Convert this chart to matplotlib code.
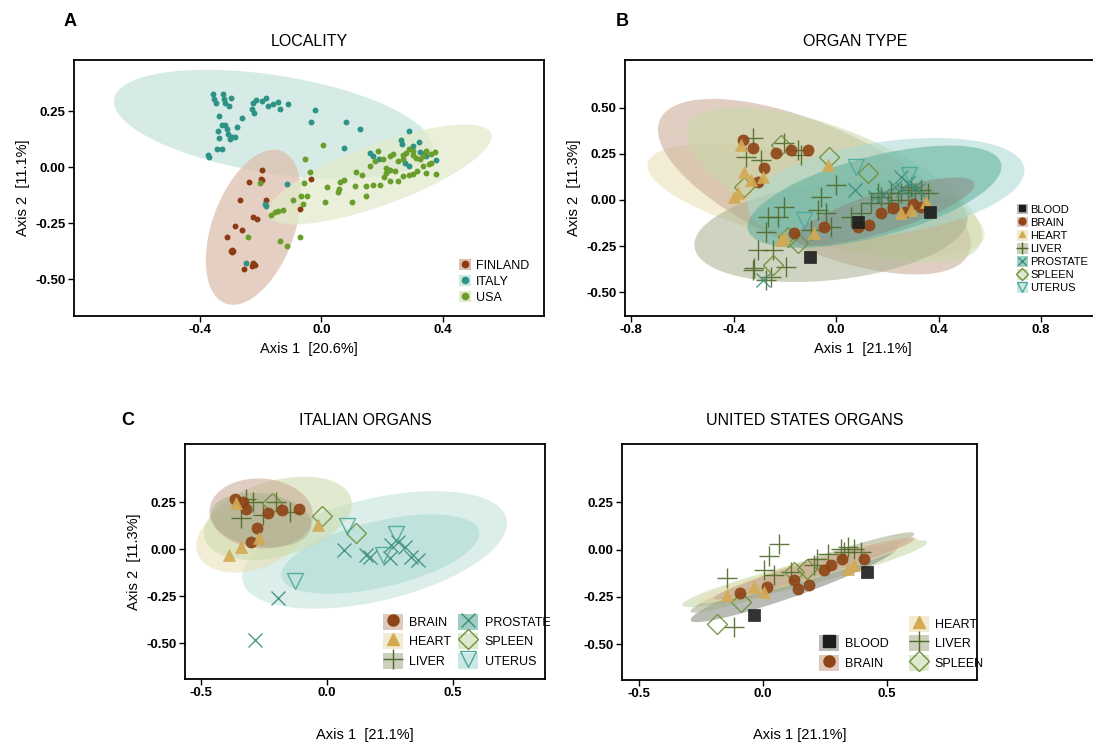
import numpy as np
import matplotlib
matplotlib.use("Agg")
import matplotlib.pyplot as plt
from matplotlib.patches import Patch
from matplotlib.lines import Line2D

plt.rcParams['font.family'] = ['Liberation Sans', 'DejaVu Sans']

# ---------------- DATA ----------------
# Panel A: locality (Axis1, Axis2)
finland_x = [-0.195, -0.199, -0.197, -0.239, -0.181, -0.268, -0.225, -0.212, -0.284, -0.263,
             -0.312, -0.294, -0.299, -0.290, -0.296, -0.225, -0.219, -0.230, -0.254, -0.071, -0.033]
finland_y = [-0.013, -0.052, -0.058, -0.067, -0.148, -0.145, -0.224, -0.231, -0.264, -0.282,
             -0.312, -0.369, -0.376, -0.373, -0.381, -0.428, -0.436, -0.440, -0.455, -0.187, -0.055]
italy_x = [-0.356, -0.354, -0.347, -0.323, -0.321, -0.318, -0.299, -0.304, -0.227, -0.230,
           -0.222, -0.214, -0.197, -0.181, -0.175, -0.159, -0.142, -0.137, -0.110, -0.022,
           -0.033, 0.082, 0.126, -0.263, -0.336, -0.329, -0.318, -0.336, -0.340, -0.312,
           -0.307, -0.296, -0.285, -0.301, -0.279, -0.345, -0.329, -0.373, -0.369, 0.290,
           0.263, 0.266, 0.321, 0.301, 0.075, 0.161, 0.170, 0.190, 0.274, 0.290,
           0.376, -0.115, -0.186, -0.181, -0.249, 0.345, 0.334, 0.323]
italy_y = [0.328, 0.306, 0.288, 0.325, 0.303, 0.285, 0.310, 0.273, 0.285, 0.261,
           0.240, 0.300, 0.296, 0.310, 0.273, 0.281, 0.291, 0.258, 0.281, 0.255,
           0.201, 0.201, 0.172, 0.221, 0.228, 0.187, 0.187, 0.131, 0.161, 0.169,
           0.146, 0.136, 0.136, 0.124, 0.181, 0.082, 0.082, 0.052, 0.045, 0.161,
           0.121, 0.104, 0.112, 0.094, 0.085, 0.061, 0.049, 0.034, 0.019, 0.004,
           0.030, -0.075, -0.167, -0.175, -0.428, 0.049, 0.057, 0.067]
usa_x = [0.005, -0.055, -0.038, -0.057, -0.066, -0.049, -0.060, -0.095, -0.128, -0.142,
         -0.153, -0.167, -0.203, -0.243, -0.135, -0.115, -0.071, 0.012, 0.019, 0.060,
         0.073, 0.058, 0.053, 0.102, 0.110, 0.113, 0.135, 0.146, 0.148, 0.170,
         0.194, 0.186, 0.159, 0.175, 0.203, 0.225, 0.236, 0.205, 0.214, 0.225,
         0.241, 0.225, 0.252, 0.268, 0.288, 0.301, 0.315, 0.336, 0.354, 0.345,
         0.378, 0.362, 0.268, 0.279, 0.301, 0.312, 0.323, 0.334, 0.345, 0.362,
         0.290, 0.301, 0.268, 0.252, 0.373, 0.212]
usa_y = [0.097, 0.034, -0.022, -0.070, -0.130, -0.130, -0.167, -0.145, -0.190, -0.197,
         -0.201, -0.216, -0.073, -0.313, -0.331, -0.354, -0.312, -0.155, -0.088, -0.066,
         -0.060, -0.100, -0.110, -0.155, -0.085, -0.022, -0.037, -0.085, -0.130, -0.082,
         -0.082, 0.072, 0.004, 0.027, 0.034, 0.049, 0.057, -0.045, -0.025, -0.013,
         -0.018, -0.063, -0.063, -0.040, -0.037, -0.033, -0.018, 0.004, 0.012, -0.028,
         -0.033, 0.019, 0.052, 0.064, 0.052, 0.042, 0.034, 0.049, 0.072, 0.057,
         0.079, 0.072, 0.034, 0.027, 0.067, -0.003]

# Panel A ellipses: centre, semi-axis vector 1, semi-axis vector 2 (data units)
ell_a_finland = [(-0.224, -0.269), (0.092, 0.340), (0.127, -0.064)]
ell_a_italy = [(-0.159, 0.191), (0.524, -0.112), (-0.025, -0.216)]
ell_a_usa = [(0.192, -0.033), (0.367, 0.182), (0.034, -0.128)]

# Panel B: organ type
b_blood_x = [-0.100, 0.368, 0.085]
b_blood_y = [-0.308, -0.063, -0.118]
b_brain_x = [-0.364, -0.325, -0.280, -0.306, -0.234, -0.176, -0.111, -0.163, -0.046, 0.085,
             0.130, 0.176, 0.221, 0.267, 0.300, 0.330]
b_brain_y = [0.326, 0.281, 0.172, 0.100, 0.254, 0.272, 0.272, -0.181, -0.145, -0.145,
             -0.136, -0.072, -0.045, -0.063, -0.020, -0.040]
b_heart_x = [-0.371, -0.358, -0.384, -0.397, -0.033, -0.202, -0.215, -0.085, 0.254, 0.293,
             -0.286, 0.351, -0.332]
b_heart_y = [0.299, 0.154, 0.036, 0.018, 0.190, -0.199, -0.217, -0.181, -0.072, -0.054,
             0.127, -0.009, 0.109]
b_liver_x = [-0.325, -0.351, -0.202, -0.150, -0.137, -0.293, 0.000, -0.059, -0.202, -0.228,
             -0.267, -0.273, -0.306, -0.247, -0.319, -0.195, -0.273, -0.254, -0.072, -0.039,
             0.098, 0.059, 0.163, 0.176, 0.215, 0.254, 0.280, 0.306, 0.332, 0.358,
             0.293, 0.241, 0.137, -0.020, -0.098, 0.202, -0.325]
b_liver_y = [0.335, 0.236, 0.308, 0.272, 0.245, 0.217, 0.082, 0.018, -0.036, -0.091,
             -0.091, -0.172, -0.272, -0.272, -0.371, -0.362, -0.435, -0.417, -0.054, -0.072,
             -0.072, -0.091, 0.036, 0.018, 0.036, 0.036, 0.054, 0.036, 0.054, 0.036,
             0.072, 0.000, -0.018, -0.145, -0.163, -0.018, -0.380]
b_prostate_x = [0.072, 0.254, 0.280, 0.306, 0.260, 0.228, -0.286, 0.150, 0.182, 0.319]
b_prostate_y = [0.054, 0.127, 0.091, 0.072, 0.054, 0.072, -0.435, 0.018, 0.027, 0.054]
b_spleen_x = [-0.026, 0.124, -0.215, -0.358, -0.247, -0.150, -0.189]
b_spleen_y = [0.236, 0.145, 0.299, 0.072, -0.353, -0.236, -0.199]
b_uterus_x = [0.078, 0.286, -0.124]
b_uterus_y = [0.181, 0.136, -0.109]

ell_b = {
    'HEART': [(-0.078, 0.000), (0.657, -0.199), (-0.036, -0.235)],
    'BRAIN': [(-0.085, 0.072), (0.603, -0.362), (-0.095, -0.310)],
    'SPLEEN': [(-0.007, 0.082), (0.572, -0.317), (-0.080, -0.280)],
    'LIVER': [(-0.020, -0.172), (0.533, 0.082), (0.021, -0.261)],
    'UTERUS': [(0.195, 0.063), (0.540, 0.109), (0.026, -0.251)],
    'PROSTATE': [(0.150, 0.018), (0.494, 0.181), (0.040, -0.210)],
    'BLOOD': [(0.189, -0.063), (0.351, 0.154), (0.023, -0.103)],
}

# Panel C: Italian organs
c_brain_x = [-0.364, -0.334, -0.321, -0.277, -0.301, -0.234, -0.177, -0.111]
c_brain_y = [0.266, 0.252, 0.213, 0.114, 0.040, 0.190, 0.208, 0.213]
c_heart_x = [-0.360, -0.387, -0.340, -0.036, -0.268]
c_heart_y = [0.243, -0.030, 0.014, 0.129, 0.058]
c_liver_x = [-0.321, -0.294, -0.340, -0.254, -0.201, -0.148]
c_liver_y = [0.266, 0.252, 0.164, 0.181, 0.252, 0.199]
c_prostate_x = [0.066, 0.156, 0.170, 0.256, 0.282, 0.309, 0.335, 0.362, 0.249, -0.195, -0.285]
c_prostate_y = [-0.004, -0.030, -0.039, 0.023, 0.040, 0.014, -0.039, -0.056, -0.048, -0.262, -0.484]
c_spleen_x = [-0.019, 0.117, -0.217]
c_spleen_y = [0.178, 0.085, 0.243]
c_uterus_x = [0.081, 0.275, 0.223, -0.125]
c_uterus_y = [0.125, 0.079, -0.030, -0.167]

ell_c = {
    'HEART': [(-0.301, 0.076), (0.212, 0.097), (0.046, -0.176)],
    'SPLEEN': [(-0.195, 0.164), (0.291, 0.106), (0.040, -0.194)],
    'BRAIN': [(-0.261, 0.190), (0.205, -0.018), (-0.009, -0.185)],
    'LIVER': [(-0.261, 0.155), (0.199, -0.035), (-0.013, -0.141)],
    'PROSTATE': [(0.189, -0.004), (0.523, 0.167), (0.048, -0.264)],
    'UTERUS': [(0.212, -0.026), (0.391, 0.123), (0.030, -0.171)],
}

# Panel D: United States organs
d_blood_x = [-0.036, 0.421]
d_blood_y = [-0.347, -0.118]
d_brain_x = [-0.094, 0.017, 0.139, 0.186, 0.246, 0.273, 0.320, 0.408, 0.125]
d_brain_y = [-0.232, -0.197, -0.206, -0.188, -0.109, -0.083, -0.048, -0.048, -0.162]
d_heart_x = [-0.144, -0.036, 0.004, 0.341, 0.367]
d_heart_y = [-0.241, -0.197, -0.224, -0.100, -0.083]
d_liver_x = [-0.147, 0.024, 0.065, 0.004, 0.044, -0.117, 0.219, 0.260, 0.314, 0.341,
             0.367, 0.394, 0.327, 0.206, 0.112]
d_liver_y = [-0.148, -0.035, 0.032, -0.109, -0.136, -0.408, -0.048, -0.021, 0.005, 0.014,
             0.005, -0.012, -0.012, -0.083, -0.118]
d_spleen_x = [-0.184, -0.090, 0.125, 0.179]
d_spleen_y = [-0.391, -0.276, -0.118, -0.100]

ell_d = {
    'SPLEEN': [(0.168, -0.127), (0.494, 0.167), (0.012, -0.060)],
    'BLOOD': [(0.125, -0.180), (0.417, 0.194), (0.016, -0.062)],
    'LIVER': [(0.159, -0.121), (0.451, 0.206), (0.013, -0.052)],
    'HEART': [(0.179, -0.109), (0.444, 0.167), (0.011, -0.049)],
    'BRAIN': [(0.206, -0.100), (0.404, 0.158), (0.009, -0.042)],
}

# ---------------- STYLE ----------------
loc_colors = {'FINLAND': '#8B3A14', 'ITALY': '#2E9287', 'USA': '#6A9E2C'}
loc_fill = {'FINLAND': '#DCBFAE', 'ITALY': '#CFE8E1', 'USA': '#E2EACB'}

org_color = {'BLOOD': '#1C1C1C', 'BRAIN': '#8E4416', 'HEART': '#D3AA52', 'LIVER': '#4F6A2B',
             'PROSTATE': '#3F8E7E', 'SPLEEN': '#6E903C', 'UTERUS': '#4DA79C'}
org_fill = {'BLOOD': '#8A8E86', 'BRAIN': '#C8A690', 'HEART': '#EADFB3', 'LIVER': '#A9B08F',
            'PROSTATE': '#5EAE9B', 'SPLEEN': '#C9DAAA', 'UTERUS': '#A9DAD2'}
org_marker = {'BLOOD': 's', 'BRAIN': 'o', 'HEART': '^', 'LIVER': '+', 'PROSTATE': 'x',
              'SPLEEN': 'D', 'UTERUS': 'v'}
org_filled = {'BLOOD': True, 'BRAIN': True, 'HEART': True, 'LIVER': False, 'PROSTATE': False,
              'SPLEEN': False, 'UTERUS': False}
org_size = {'BLOOD': 8, 'BRAIN': 8, 'HEART': 8, 'LIVER': 15, 'PROSTATE': 10,
            'SPLEEN': 10, 'UTERUS': 12}

W, H = 1093, 743
fig = plt.figure(figsize=(W / 100, H / 100), dpi=100)


def add_axes(l, t, r, b):
    return fig.add_axes([l / W, 1 - b / H, (r - l) / W, (b - t) / H])


def ellipse(ax, params, color, alpha):
    (cx, cy), (ux, uy), (vx, vy) = params
    t = np.linspace(0, 2 * np.pi, 200)
    xs = cx + ux * np.cos(t) + vx * np.sin(t)
    ys = cy + uy * np.cos(t) + vy * np.sin(t)
    ax.fill(xs, ys, color=color, alpha=alpha, lw=0, zorder=1)


def style(ax, xt, xtl, yt, ytl, xlim, ylim):
    ax.set_xlim(*xlim)
    ax.set_ylim(*ylim)
    ax.set_xticks(xt)
    ax.set_xticklabels(xtl)
    ax.set_yticks(yt)
    ax.set_yticklabels(ytl)
    ax.tick_params(direction='out', length=4, width=1, labelsize=9.5, pad=2)
    for lab in ax.get_xticklabels() + ax.get_yticklabels():
        lab.set_fontweight('bold')
    for s in ax.spines.values():
        s.set_linewidth(1.3)


def org_plot(ax, name, xs, ys, scale=1.0):
    m = org_marker[name]
    c = org_color[name]
    ms = org_size[name] * scale
    if org_filled[name]:
        ax.plot(xs, ys, ls='none', marker=m, ms=ms, mfc=c, mec=c, mew=0.5, alpha=0.9, zorder=3)
    else:
        ax.plot(xs, ys, ls='none', marker=m, ms=ms, mfc='none', mec=c, mew=1.0, alpha=0.9, zorder=3)


def org_handle(name, scale=1.0):
    m = org_marker[name]
    c = org_color[name]
    ms = org_size[name] * scale
    patch = Patch(facecolor=org_fill[name], edgecolor='none', alpha=0.6)
    if org_filled[name]:
        ln = Line2D([], [], ls='none', marker=m, ms=ms, mfc=c, mec=c)
    else:
        ln = Line2D([], [], ls='none', marker=m, ms=ms, mfc='none', mec=c, mew=1.0)
    return (patch, ln)


# ---------------- Panel A ----------------
axA = add_axes(74, 60, 544, 316)
ellipse(axA, ell_a_italy, loc_fill['ITALY'], 0.85)
ellipse(axA, ell_a_finland, loc_fill['FINLAND'], 0.75)
ellipse(axA, ell_a_usa, loc_fill['USA'], 0.75)
axA.scatter(finland_x, finland_y, s=18, color=loc_colors['FINLAND'], zorder=3, lw=0)
axA.scatter(italy_x, italy_y, s=18, color=loc_colors['ITALY'], zorder=3, lw=0)
axA.scatter(usa_x, usa_y, s=18, color=loc_colors['USA'], zorder=3, lw=0)
style(axA, [-0.4, 0.0, 0.4], ['-0.4', '0.0', '0.4'],
      [0.25, 0.0, -0.25, -0.5], ['0.25', '0.00', '-0.25', '-0.50'],
      (-0.815, 0.733), (-0.665, 0.478))
axA.set_xlabel('Axis 1  [20.6%]', fontsize=10.5, labelpad=4)
axA.set_ylabel('Axis 2  [11.1%]', fontsize=10.5, labelpad=4)
axA.set_title('LOCALITY', fontsize=11.5, pad=10)
hA = []
for k in ['FINLAND', 'ITALY', 'USA']:
    hA.append((Patch(facecolor=loc_fill[k], edgecolor='none'),
               Line2D([], [], ls='none', marker='o', ms=4.5, mfc=loc_colors[k], mec=loc_colors[k])))
axA.legend(hA, ['FINLAND', 'ITALY', 'USA'], loc='upper left', bbox_to_anchor=(450 / W, 1 - 250 / H),
           bbox_transform=fig.transFigure, frameon=False, fontsize=9, handlelength=1.0,
           handleheight=1.0, handletextpad=0.4, labelspacing=0.25, borderpad=0.2)

# ---------------- Panel B ----------------
axB = add_axes(625, 60, 1100, 316)
for k in ['HEART', 'BRAIN', 'SPLEEN', 'LIVER', 'UTERUS', 'PROSTATE', 'BLOOD']:
    ellipse(axB, ell_b[k], org_fill[k], 0.55)
org_plot(axB, 'LIVER', b_liver_x, b_liver_y)
org_plot(axB, 'PROSTATE', b_prostate_x, b_prostate_y)
org_plot(axB, 'SPLEEN', b_spleen_x, b_spleen_y)
org_plot(axB, 'UTERUS', b_uterus_x, b_uterus_y)
org_plot(axB, 'BRAIN', b_brain_x, b_brain_y)
org_plot(axB, 'HEART', b_heart_x, b_heart_y)
org_plot(axB, 'BLOOD', b_blood_x, b_blood_y)
style(axB, [-0.8, -0.4, 0.0, 0.4, 0.8], ['-0.8', '-0.4', '0.0', '0.4', '0.8'],
      [0.5, 0.25, 0.0, -0.25, -0.5], ['0.50', '0.25', '0.00', '-0.25', '-0.50'],
      (-0.824, 1.03), (-0.63, 0.76))
axB.set_xlabel('Axis 1  [21.1%]', fontsize=10.5, labelpad=4)
axB.set_ylabel('Axis 2  [11.3%]', fontsize=10.5, labelpad=4)
fig.text(855 / W, 1 - 41 / H, 'ORGAN TYPE', fontsize=11.5, ha='center', va='center')
namesB = ['BLOOD', 'BRAIN', 'HEART', 'LIVER', 'PROSTATE', 'SPLEEN', 'UTERUS']
axB.legend([org_handle(k, 0.62) for k in namesB], namesB, loc='upper left',
           bbox_to_anchor=(1010 / W, 1 - 197 / H), bbox_transform=fig.transFigure,
           frameon=False, fontsize=8, handlelength=1.0, handleheight=1.1,
           handletextpad=0.2, labelspacing=0.18, borderpad=0.1)

# ---------------- Panel C ----------------
axC = add_axes(185, 444, 545, 679)
for k in ['PROSTATE', 'UTERUS', 'HEART', 'SPLEEN', 'BRAIN', 'LIVER']:
    ellipse(axC, ell_c[k], org_fill[k] if k not in ('PROSTATE',) else '#BFE0D8', 0.55)
org_plot(axC, 'LIVER', c_liver_x, c_liver_y)
org_plot(axC, 'PROSTATE', c_prostate_x, c_prostate_y)
org_plot(axC, 'SPLEEN', c_spleen_x, c_spleen_y)
org_plot(axC, 'UTERUS', c_uterus_x, c_uterus_y)
org_plot(axC, 'BRAIN', c_brain_x, c_brain_y)
org_plot(axC, 'HEART', c_heart_x, c_heart_y)
style(axC, [-0.5, 0.0, 0.5], ['-0.5', '0.0', '0.5'],
      [0.25, 0.0, -0.25, -0.5], ['0.25', '0.00', '-0.25', '-0.50'],
      (-0.563, 0.865), (-0.69, 0.559))
axC.set_xlabel('Axis 1  [21.1%]', fontsize=10.5, labelpad=21)
axC.set_ylabel('Axis 2  [11.3%]', fontsize=10.5, labelpad=4)
fig.text(365 / W, 1 - 420 / H, 'ITALIAN ORGANS', fontsize=11.5, ha='center', va='center')
namesC = ['BRAIN', 'HEART', 'LIVER', 'PROSTATE', 'SPLEEN', 'UTERUS']
axC.legend([org_handle(k, 1.0) for k in namesC], namesC, loc='upper left', ncol=2,
           bbox_to_anchor=(375 / W, 1 - 606 / H), bbox_transform=fig.transFigure,
           frameon=False, fontsize=9, handlelength=1.6, handleheight=1.6,
           handletextpad=0.5, labelspacing=0.3, borderpad=0.1, columnspacing=0.6)

# ---------------- Panel D ----------------
axD = add_axes(622, 444, 977, 680)
for k in ['SPLEEN', 'BLOOD', 'LIVER', 'HEART', 'BRAIN']:
    ellipse(axD, ell_d[k], org_fill[k], 0.6)
org_plot(axD, 'LIVER', d_liver_x, d_liver_y)
org_plot(axD, 'SPLEEN', d_spleen_x, d_spleen_y)
org_plot(axD, 'BRAIN', d_brain_x, d_brain_y)
org_plot(axD, 'HEART', d_heart_x, d_heart_y)
org_plot(axD, 'BLOOD', d_blood_x, d_blood_y)
style(axD, [-0.5, 0.0, 0.5], ['-0.5', '0.0', '0.5'],
      [0.25, 0.0, -0.25, -0.5], ['0.25', '0.00', '-0.25', '-0.50'],
      (-0.569, 0.863), (-0.69, 0.559))
axD.set_xlabel('Axis 1 [21.1%]', fontsize=10.5, labelpad=20)
fig.text(805 / W, 1 - 420 / H, 'UNITED STATES ORGANS', fontsize=11.5, ha='center', va='center')
blank = (Patch(facecolor='none', edgecolor='none'),)
namesD = ['BLOOD', 'BRAIN', 'HEART', 'LIVER', 'SPLEEN']
hD = [blank] + [org_handle(k, 1.0) for k in namesD]
axD.legend(hD, [''] + namesD, loc='upper left', ncol=2,
           bbox_to_anchor=(811 / W, 1 - 608 / H), bbox_transform=fig.transFigure,
           frameon=False, fontsize=9, handlelength=1.6, handleheight=1.6,
           handletextpad=0.5, labelspacing=0.3, borderpad=0.1, columnspacing=1.6)

# Panel letters
for lt, x, y in [('A', 70, 22), ('B', 622, 22), ('C', 128, 420)]:
    fig.text(x / W, 1 - y / H, lt, fontsize=13, fontweight='bold', ha='center', va='center')

fig.savefig('out.png', dpi=100)
